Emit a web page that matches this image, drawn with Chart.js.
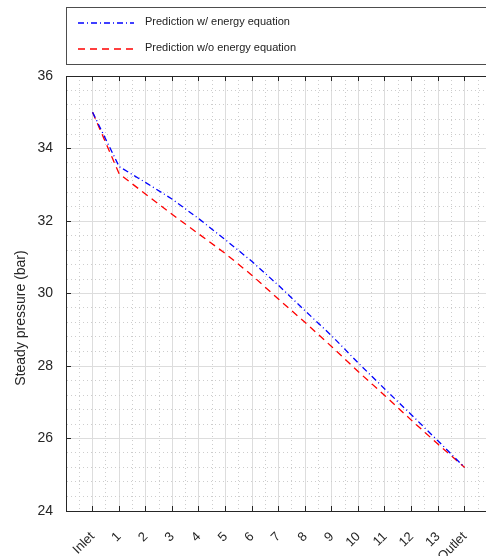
<!DOCTYPE html>
<html>
<head>
<meta charset="utf-8">
<script src="https://cdn.jsdelivr.net/npm/chart.js@4"></script>
<style>
html, body { margin: 0; padding: 0; background: #fff; overflow: hidden; }
#wrap { width: 486px; height: 556px; }
</style>
</head>
<body>
<div id="wrap"><canvas id="chart"></canvas></div>
<script>
const stations = ['Inlet', '1', '2', '3', '4', '5', '6', '7', '8', '9', '10', '11', '12', '13', 'Outlet'];
const withEnergy = [35.0, 33.5, 33.06, 32.6, 32.06, 31.48, 30.88, 30.22, 29.52, 28.83, 28.08, 27.36, 26.65, 25.93, 25.2];
const withoutEnergy = [35.0, 33.3, 32.74, 32.18, 31.64, 31.1, 30.5, 29.84, 29.2, 28.53, 27.84, 27.18, 26.5, 25.84, 25.2];
const yMin = 24, yMax = 36, yMajor = 2, yMinor = 0.4;

const FONT = '"Liberation Sans", Arial, sans-serif';
const AXIS = '#262626';
const BLUE = '#0000ff';
const RED = '#ff0000';
const BLUE_DASH = [6, 3, 1, 3];
const RED_DASH = [7, 5];
const MAJOR_GRID = '#dddddd';
const MINOR_GRID = '#cdcdcd';
const MINOR_DASH = [1, 3];

const isMajorY = v => Math.abs(v / yMajor - Math.round(v / yMajor)) < 1e-6;
const isInt = v => Math.abs(v - Math.round(v)) < 1e-6;

// legend box and y title, drawn by hand like the original figure
const extras = {
    id: 'extras',
    afterDraw(chart) {
        const ctx = chart.ctx;
        const left = chart.chartArea.left;
        ctx.save();
        ctx.strokeStyle = '#4d4d4d';
        ctx.lineWidth = 1;
        ctx.strokeRect(Math.round(left) + 0.5, 7.5, chart.width, 57);
        ctx.font = '11px ' + FONT;
        ctx.textBaseline = 'middle';
        const samples = [[BLUE, BLUE_DASH], [RED, RED_DASH]];
        chart.data.datasets.forEach((ds, i) => {
            const y = 23 + i * 26;
            ctx.strokeStyle = samples[i][0];
            ctx.lineWidth = 1.3;
            ctx.setLineDash(samples[i][1]);
            ctx.beginPath();
            ctx.moveTo(78, y);
            ctx.lineTo(134, y);
            ctx.stroke();
            ctx.setLineDash([]);
            ctx.fillStyle = '#222';
            ctx.fillText(ds.label, 145, y - 1);
        });
        ctx.translate(21, 318);
        ctx.rotate(-Math.PI / 2);
        ctx.textAlign = 'center';
        ctx.font = '14px ' + FONT;
        ctx.fillStyle = AXIS;
        ctx.fillText('Steady pressure (bar)', 0, 0);
        ctx.restore();
    }
};

new Chart(document.getElementById('chart'), {
    type: 'line',
    data: {
        datasets: [{
            label: 'Prediction w/ energy equation',
            data: stations.map((s, i) => ({ x: i, y: withEnergy[i] })),
            borderColor: BLUE,
            borderDash: BLUE_DASH,
            borderWidth: 1.3,
            pointRadius: 0,
            tension: 0
        }, {
            label: 'Prediction w/o energy equation',
            data: stations.map((s, i) => ({ x: i, y: withoutEnergy[i] })),
            borderColor: RED,
            borderDash: RED_DASH,
            borderWidth: 1.3,
            pointRadius: 0,
            tension: 0
        }]
    },
    options: {
        responsive: true,
        maintainAspectRatio: false,
        animation: false,
        layout: { padding: { top: 76, left: 0, right: 0, bottom: 0 } },
        plugins: {
            legend: { display: false },
            tooltip: { enabled: false }
        },
        scales: {
            x: {
                type: 'linear',
                min: -1,
                max: 14.8,
                afterFit: s => { s.height = 45; s.paddingLeft = 0; s.paddingRight = 0; },
                ticks: {
                    stepSize: 0.5,
                    includeBounds: false,
                    autoSkip: false,
                    minRotation: 45,
                    maxRotation: 45,
                    padding: 23,
                    color: AXIS,
                    font: { size: 13, family: FONT },
                    callback: v => (isInt(v) && v >= 0 && v < stations.length) ? stations[Math.round(v)] : ''
                },
                grid: {
                    color: c => isInt(c.tick.value) ? MAJOR_GRID : MINOR_GRID,
                    tickLength: -5,
                    tickColor: c => isInt(c.tick.value) ? AXIS : 'rgba(0,0,0,0)'
                },
                border: {
                    color: AXIS,
                    dash: c => (c.tick && !isInt(c.tick.value)) ? MINOR_DASH : []
                }
            },
            x2: {
                type: 'linear',
                position: 'top',
                min: -1,
                max: 14.8,
                afterFit: s => { s.height = 0; s.paddingLeft = 0; s.paddingRight = 0; },
                ticks: { display: false, stepSize: 1, includeBounds: false },
                grid: {
                    drawOnChartArea: false,
                    tickLength: -5,
                    tickColor: AXIS
                },
                border: { color: AXIS }
            },
            y: {
                min: yMin,
                max: yMax,
                afterFit: s => { s.width = 66; },
                ticks: {
                    stepSize: yMinor,
                    autoSkip: false,
                    padding: 18,
                    color: AXIS,
                    font: { size: 14, family: FONT },
                    callback: v => isMajorY(v) ? Math.round(v) : ''
                },
                grid: {
                    color: c => isMajorY(c.tick.value) ? MAJOR_GRID : MINOR_GRID,
                    tickLength: -5,
                    tickColor: c => isMajorY(c.tick.value) ? AXIS : 'rgba(0,0,0,0)'
                },
                border: {
                    color: AXIS,
                    dash: c => (c.tick && !isMajorY(c.tick.value)) ? MINOR_DASH : []
                }
            }
        }
    },
    plugins: [extras]
});
</script>
</body>
</html>
